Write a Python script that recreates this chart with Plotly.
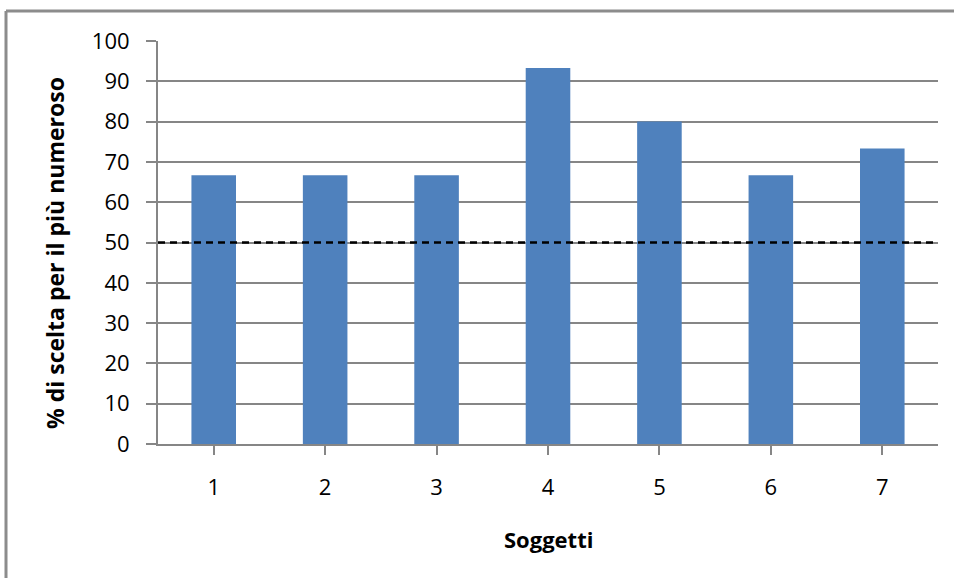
import plotly.graph_objects as go

# Percentage of choices for the larger quantity, per subject
soggetti = [1, 2, 3, 4, 5, 6, 7]
percentuale = [66.7, 66.7, 66.7, 93.3, 80.0, 66.7, 73.3]
y_ticks = [0, 10, 20, 30, 40, 50, 60, 70, 80, 90, 100]
soglia_caso = 50

W, H = 954, 578
L, R, T, B = 158, 16, 41, 134
pw, ph = W - L - R, H - T - B

def px_x(p):
    return (p - L) / pw

def px_y(p):
    return (H - B - p) / ph

FONT = "Open Sans"
GRID = "#868686"

fig = go.Figure()
fig.add_trace(go.Bar(
    x=soggetti, y=percentuale,
    marker=dict(color="#4F81BD", line=dict(width=0)),
    hoverinfo="x+y",
))

# chance level line
fig.add_shape(type="line", xref="paper", yref="y", x0=0, x1=1,
              y0=soglia_caso, y1=soglia_caso,
              line=dict(color="black", width=2.5, dash="7px,5px"))

# outer chart frame
frame = "#8c8c8c"
fig.add_shape(type="line", xref="paper", yref="paper",
              x0=px_x(6), x1=px_x(6), y0=px_y(11), y1=px_y(H + 5),
              line=dict(color=frame, width=3))
fig.add_shape(type="line", xref="paper", yref="paper",
              x0=px_x(6), x1=px_x(W + 5), y0=px_y(11), y1=px_y(11),
              line=dict(color=frame, width=3))

fig.add_annotation(text="<b>% di scelta per il più numeroso</b>", xref="paper", yref="paper",
                   x=px_x(55), y=px_y(253), xanchor="center", yanchor="middle",
                   textangle=-90, showarrow=False,
                   font=dict(family=FONT, size=23, color="black"))
fig.add_annotation(text="<b>Soggetti</b>", xref="paper", yref="paper",
                   x=px_x(548), y=px_y(539), xanchor="center", yanchor="middle",
                   showarrow=False,
                   font=dict(family=FONT, size=22, color="black"))

fig.update_layout(
    width=W, height=H,
    margin=dict(l=L, r=R, t=T, b=B),
    paper_bgcolor="white", plot_bgcolor="white",
    bargap=0.6, showlegend=False,
    font=dict(family=FONT, size=22, color="black"),
    xaxis=dict(
        range=[0.5, 7.5], tickvals=soggetti, ticktext=[str(s) for s in soggetti],
        tickson="boundaries", ticks="outside", ticklen=9, tickwidth=2, tickcolor=GRID,
        showline=True, linecolor=GRID, linewidth=2, showgrid=False,
        ticklabelstandoff=14, fixedrange=True,
    ),
    yaxis=dict(
        range=[0, 100], tickvals=y_ticks, ticks="outside", ticklen=10, tickwidth=2,
        tickcolor=GRID, showline=True, linecolor=GRID, linewidth=2,
        showgrid=True, gridcolor=GRID, gridwidth=1.5, zeroline=False,
        ticklabelstandoff=12, fixedrange=True,
    ),
)

fig.write_html("out.html")
